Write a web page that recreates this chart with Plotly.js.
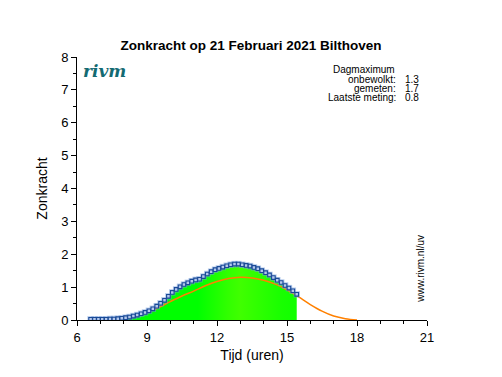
<!DOCTYPE html>
<html><head><meta charset="utf-8">
<script src="https://cdn.plot.ly/plotly-3.0.1.min.js"></script>
<style>body{margin:0;background:#fff}#c{width:502px;height:377px}</style>
</head><body><div id="c"></div>
<script>
// measured UV index (every 10 minutes), decimal hours
const measTimes = [6.583,6.75,6.917,7.083,7.25,7.417,7.583,7.75,7.917,8.083,8.25,8.417,8.583,8.75,8.917,9.083,9.25,9.417,9.583,9.75,9.917,10.083,10.25,10.417,10.583,10.75,10.917,11.083,11.25,11.417,11.583,11.75,11.917,12.083,12.25,12.417,12.583,12.75,12.917,13.083,13.25,13.417,13.583,13.75,13.917,14.083,14.25,14.417,14.583,14.75,14.917,15.083,15.25,15.417];
const measValues = [0.02,0.02,0.02,0.02,0.02,0.03,0.03,0.04,0.05,0.07,0.09,0.12,0.15,0.19,0.23,0.28,0.34,0.42,0.51,0.60,0.72,0.84,0.93,1.01,1.08,1.13,1.18,1.22,1.24,1.32,1.40,1.47,1.53,1.57,1.61,1.65,1.68,1.70,1.70,1.68,1.66,1.64,1.60,1.56,1.50,1.44,1.37,1.29,1.21,1.14,1.05,0.97,0.89,0.78];
// clear-sky (onbewolkt) curve
const clearTimes = [7.0,7.5,8.0,8.5,9.0,9.5,10.0,10.5,11.0,11.5,12.0,12.5,13.0,13.5,14.0,14.5,15.0,15.5,16.0,16.5,17.0,17.5,18.0];
const clearValues = [0.0,0.01,0.04,0.10,0.22,0.38,0.56,0.73,0.88,1.04,1.17,1.26,1.30,1.28,1.21,1.09,0.92,0.70,0.47,0.27,0.12,0.04,0.0];
const xTicks = [6,9,12,15,18,21];
const yTicks = [0,1,2,3,4,5,6,7,8];
const infoLabels = ["onbewolkt:","gemeten:","Laatste meting:"];
const infoValues = ["1.3","1.7","0.8"];

const FONT = "Liberation Sans, Arial, sans-serif";

const traces = [
  {x: measTimes, y: measValues, type:'scatter', mode:'lines', line:{width:0, color:'rgba(0,0,0,0)'},
   fill:'tozeroy', fillcolor:'#00ff00',
   fillgradient:{type:'horizontal', start:6.5, stop:15.5,
     colorscale:[[0,'#00ff00'],[0.52,'#00ff00'],[0.66,'#30ff00'],[0.72,'#40ff00'],[0.8,'#30ff00'],[0.92,'#18ff00'],[1,'#10ff00']]},
   hoverinfo:'skip', showlegend:false},
  {x: clearTimes, y: clearValues, type:'scatter', mode:'lines', line:{color:'#ff8000', width:1.5, shape:'spline', smoothing:1},
   showlegend:false},
  {x: measTimes, y: measValues, type:'scatter', mode:'markers',
   marker:{symbol:'square', size:6.5, color:'rgba(120,160,220,0.5)', line:{width:0}}, showlegend:false},
  {x: measTimes, y: measValues, type:'scatter', mode:'markers',
   marker:{symbol:'square', size:3.6, color:'#b4c8ec', line:{width:1.1, color:'#1a4a96'}}, showlegend:false}
];

const ann = [
  {text:'Dagmaximum', xref:'paper', yref:'paper', x:0.725, y:0.954, xanchor:'left', yanchor:'middle', showarrow:false, font:{family:FONT, size:10, color:'#000'}},
  {text:'<i><b>rivm</b></i>', xref:'paper', yref:'paper', x:0.012, y:0.948, xanchor:'left', yanchor:'middle', showarrow:false, font:{family:'DejaVu Serif, serif', size:17, color:'#136a72'}},
  {text:'www.rivm.nl/uv', xref:'paper', yref:'paper', x:0.982, y:0.194, xanchor:'center', yanchor:'middle', textangle:-90, showarrow:false, font:{family:FONT, size:10, color:'#000'}}
];
const rowY = [0.916, 0.881, 0.846];
for (let i = 0; i < infoLabels.length; i++) {
  ann.push({text: infoLabels[i], xref:'paper', yref:'paper', x:0.917, y:rowY[i], xanchor:'right', yanchor:'middle', showarrow:false, font:{family:FONT, size:10, color:'#000'}});
  ann.push({text: infoValues[i], xref:'paper', yref:'paper', x:0.93, y:rowY[i], xanchor:'left', yanchor:'middle', showarrow:false, font:{family:FONT, size:10, color:'#000'}});
}

const layout = {
  width:502, height:377,
  margin:{l:77, r:75, t:57, b:57, pad:0},
  paper_bgcolor:'#fff', plot_bgcolor:'#fff',
  font:{family:FONT, color:'#000'},
  title:{text:'<b>Zonkracht op 21 Februari 2021 Bilthoven</b>', x:0.5, xanchor:'center', y:0.881, yref:'container', yanchor:'middle', font:{family:FONT, size:13.5, color:'#000'}},
  showlegend:false,
  xaxis:{range:[6,21], tickvals:xTicks, ticktext:xTicks.map(String), ticks:'outside', ticklen:5, tickcolor:'#000',
    minor:{dtick:1, tick0:6, ticks:'outside', ticklen:3, tickcolor:'#000'},
    showline:true, linecolor:'#000', linewidth:1, showgrid:false, zeroline:false,
    tickfont:{family:FONT, size:13}, title:{text:'Tijd (uren)', font:{family:FONT, size:14}, standoff:6}, fixedrange:true},
  yaxis:{range:[0,8], tickvals:yTicks, ticktext:yTicks.map(String), ticks:'outside', ticklen:5, tickcolor:'#000',
    minor:{dtick:0.5, tick0:0, ticks:'outside', ticklen:3, tickcolor:'#000'},
    showline:true, linecolor:'#000', linewidth:1, showgrid:false, zeroline:false,
    tickfont:{family:FONT, size:13}, title:{text:'Zonkracht', font:{family:FONT, size:14}, standoff:10}, fixedrange:true},
  xaxis2:{range:[6,21], overlaying:'x', side:'top', anchor:'y', dtick:1, tick0:6, ticks:'inside', ticklen:3, tickcolor:'#000',
    showticklabels:false, showline:true, linecolor:'#000', linewidth:1, showgrid:false, zeroline:false},
  yaxis2:{range:[0,8], overlaying:'y', side:'right', anchor:'x', dtick:0.5, tick0:0, ticks:'inside', ticklen:3, tickcolor:'#000',
    showticklabels:false, showline:true, linecolor:'#000', linewidth:1, showgrid:false, zeroline:false},
  annotations: ann
};
Plotly.newPlot('c', traces, layout, {staticPlot:true, displayModeBar:false});
</script></body></html>
